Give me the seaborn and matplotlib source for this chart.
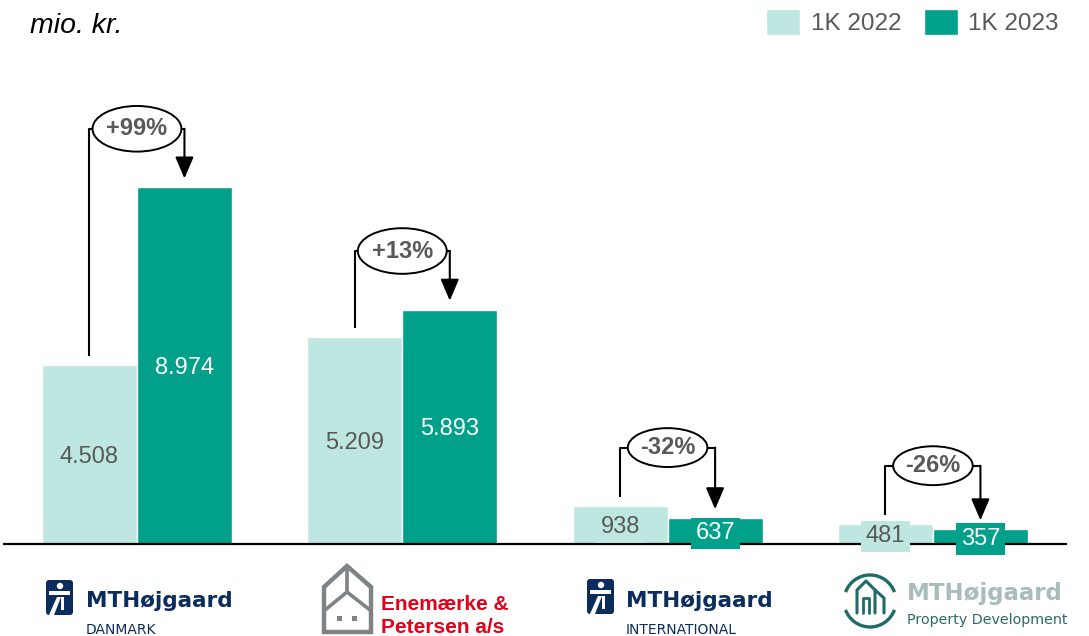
import matplotlib
matplotlib.use("Agg")
import matplotlib.pyplot as plt
import seaborn as sns
import pandas as pd
from matplotlib.patches import Ellipse, FancyBboxPatch, Polygon, Rectangle, Circle, Arc

# data (mio. kr.)
companies = ["MTH Danmark", "Enemærke & Petersen", "MTH International", "MTH Property Development"]
q1_2022 = [4508, 5209, 938, 481]
q1_2023 = [8974, 5893, 637, 357]
series = ["1K 2022", "1K 2023"]

LIGHT = "#BFE7E2"
DARK = "#00A08A"
GREY = "#595959"
NAVY = "#0B2D5E"

sns.set_theme(style="white")
plt.rcParams['font.family'] = ['Liberation Sans', 'DejaVu Sans']

df = pd.DataFrame({"company": companies, series[0]: q1_2022, series[1]: q1_2023})
long = df.melt(id_vars="company", var_name="period", value_name="value")

fig = plt.figure(figsize=(10.89, 6.36), dpi=100)
ax = fig.add_axes([4.3 / 1089, 1 - 543.5 / 636, 1061.3 / 1089, 503.5 / 636])

sns.barplot(data=long, x="company", y="value", hue="period", hue_order=series,
            palette=[LIGHT, DARK], width=0.716, gap=0, saturation=1, ax=ax)

ax.set_xlim(-0.5, 3.5)
ax.set_ylim(0, 12692)
ax.set_xlabel("")
ax.set_ylabel("")
ax.set_xticks([])
ax.set_yticks([])
for s in ["top", "left", "right"]:
    ax.spines[s].set_visible(False)
ax.spines["bottom"].set_color("black")
ax.spines["bottom"].set_linewidth(1.6)

def fmt(v):
    return f"{v:,}".replace(",", ".")

# value labels inside bars
for cont, col, tcol in zip(ax.containers, [LIGHT, DARK], [GREY, "white"]):
    for bar in cont:
        h = bar.get_height()
        cx = bar.get_x() + bar.get_width() / 2
        ax.text(cx, h / 2, fmt(int(round(h))), ha="center", va="center_baseline",
                fontsize=17, color=tcol, zorder=4,
                bbox=dict(boxstyle="square,pad=0.2", fc=col, ec="none"))

# change arrows with ellipse
gap = 227
for i, (a, b) in enumerate(zip(q1_2022, q1_2023)):
    bw = ax.containers[0][i].get_width()
    xl = ax.containers[0][i].get_x() + bw / 2
    xr = ax.containers[1][i].get_x() + bw / 2
    ey = max(a, b) + 1480
    pct = round((b / a - 1) * 100)
    w = 0.335 if pct > 0 else 0.30
    h = 1150 if pct > 0 else 980
    ax.plot([xl, xl, i - w / 2], [a + gap, ey, ey], color="black", lw=1.5,
            solid_capstyle="butt", zorder=3)
    ax.plot([i + w / 2, xr], [ey, ey], color="black", lw=1.5, zorder=3)
    ax.annotate("", xy=(xr, b + gap), xytext=(xr, ey),
                arrowprops=dict(arrowstyle="-|>,head_length=1.1,head_width=0.47",
                                color="black", lw=1.5, shrinkA=0, shrinkB=0),
                zorder=3)
    ax.add_patch(Ellipse((i, ey), w, h, fc="white", ec="black", lw=1.4, zorder=4))
    ax.text(i, ey, f"{pct:+d}%", ha="center", va="center", fontsize=17,
            fontweight="bold", color=GREY, zorder=5)

sns.move_legend(ax, "upper right", bbox_to_anchor=(1059 / 1089, 1 - 9 / 636),
                bbox_transform=fig.transFigure, ncol=2, frameon=False, title=None,
                fontsize=17.5, handlelength=1.4, handleheight=1.3,
                handletextpad=0.45, columnspacing=0.9, borderpad=0,
                borderaxespad=0, labelcolor=GREY)

fig.text(30 / 1089, 1 - 33 / 636, "mio. kr.", style="italic", fontsize=20.5,
         va="baseline", ha="left", color="black")

# logos drawn in pixel coordinates
lg = fig.add_axes([0, 0, 1, 1], facecolor="none")
lg.set_xlim(0, 1089)
lg.set_ylim(636, 0)
lg.axis("off")

def mth_icon(x0, y0):
    lg.add_patch(FancyBboxPatch((x0, y0), 27, 35, boxstyle="round,pad=0,rounding_size=3",
                                fc=NAVY, ec="none"))
    lg.add_patch(Circle((x0 + 14, y0 + 6), 3.2, fc="white", ec="none"))
    lg.add_patch(Rectangle((x0 + 3, y0 + 11), 21, 4, fc="white", ec="none"))
    lg.add_patch(Polygon([(x0 + 11, y0 + 17), (x0 + 15, y0 + 17), (x0 + 8, y0 + 35),
                          (x0 + 3, y0 + 35)], fc="white", ec="none"))
    lg.add_patch(Polygon([(x0 + 15, y0 + 17), (x0 + 18, y0 + 17), (x0 + 18, y0 + 30),
                          (x0 + 15, y0 + 30)], fc="white", ec="none"))

mth_icon(46, 580)
lg.text(86, 607, "MTHøjgaard", family="DejaVu Sans", fontweight="bold",
        fontsize=15.5, color=NAVY, va="baseline")
lg.text(86, 634, "DANMARK", family="DejaVu Sans", fontsize=10, color=NAVY, va="baseline")

mth_icon(587, 579)
lg.text(626, 607, "MTHøjgaard", family="DejaVu Sans", fontweight="bold",
        fontsize=15.5, color=NAVY, va="baseline")
lg.text(626, 634, "INTERNATIONAL", family="DejaVu Sans", fontsize=10, color=NAVY,
        va="baseline")

# Enemærke & Petersen house
HG = "#7F8385"
lg.add_patch(Polygon([(324, 632), (324, 587), (347, 566), (371, 587), (371, 632)],
                     closed=True, fc="none", ec=HG, lw=3.2, joinstyle="miter"))
lg.plot([347, 347], [567, 592], color=HG, lw=2.6)
lg.plot([325, 347, 370], [610, 592, 610], color=HG, lw=2.6)
lg.add_patch(Rectangle((337, 616), 5, 5, fc=HG, ec="none"))
lg.add_patch(Rectangle((352, 616), 5, 5, fc=HG, ec="none"))
lg.text(381, 610, "Enemærke &", fontweight="bold", fontsize=15, color="#E2001A",
        va="baseline")
lg.text(381, 633, "Petersen a/s", fontweight="bold", fontsize=15, color="#E2001A",
        va="baseline")

# Property Development icon
TEAL = "#1E6B68"
lg.add_patch(Arc((870, 601), 52, 52, theta1=200, theta2=340, color=TEAL, lw=2.4))
lg.add_patch(Arc((870, 601), 52, 52, theta1=20, theta2=160, color=TEAL, lw=2.4))
lg.plot([857, 857, 866, 875, 875], [613, 590, 581, 590, 613], color=TEAL, lw=2.2)
lg.plot([863, 863, 869, 869], [613, 598, 598, 613], color=TEAL, lw=2.0)
lg.plot([875, 884, 884], [590, 598, 613], color=TEAL, lw=2.2)
lg.text(907, 600, "MTHøjgaard", family="DejaVu Sans", fontweight="bold",
        fontsize=16.5, color="#A7BDBB", va="baseline")
lg.text(907, 624, "Property Development", family="DejaVu Sans", fontsize=10.3,
        color="#2A6B69", va="baseline")

fig.savefig("out.png", dpi=100)
plt.close(fig)
